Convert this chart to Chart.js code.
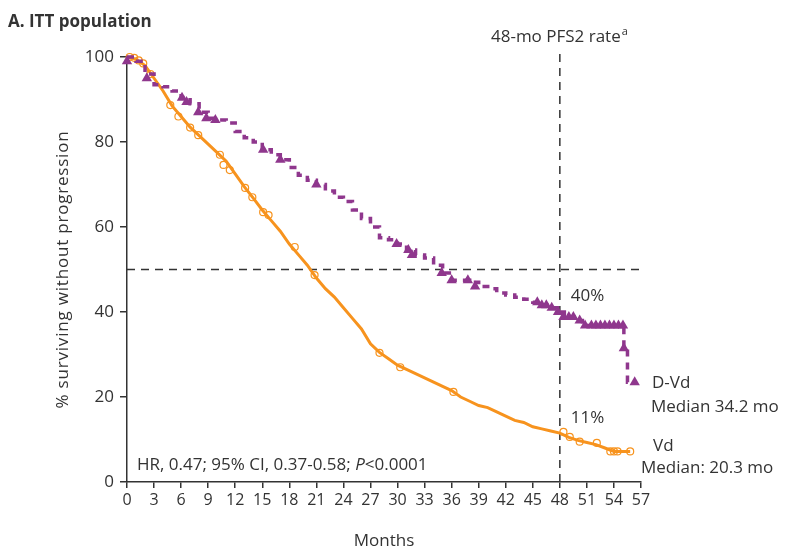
<!DOCTYPE html>
<html lang="en">
<head>
<meta charset="UTF-8">
<title>PFS2 - ITT population</title>
<script src="https://cdn.jsdelivr.net/npm/chart.js"></script>
<style>
  body { margin: 0; background: #fff; }
</style>
</head>
<body>
<canvas id="kmChart" width="785" height="549"></canvas>
<script>
// axis ticks
const xTicks = [0, 3, 6, 9, 12, 15, 18, 21, 24, 27, 30, 33, 36, 39, 42, 45, 48, 51, 54, 57];
const yTicks = [0, 20, 40, 60, 80, 100];

// Vd arm (orange, solid)
const vdMonths = [0, 1, 2, 3, 4, 5, 6, 7, 8, 9, 10, 11, 12, 13, 14, 15, 16, 17, 18, 19, 20,
  21, 22, 23, 24, 25, 26, 27, 28, 29, 30, 31, 32, 33, 34, 35, 36, 37, 38, 39, 40,
  41, 42, 43, 44, 45, 46, 47, 48, 49, 50, 51, 52, 53, 54, 55, 55.8];
const vdSurvival = [100, 99.5, 98, 95, 92, 88.5, 86, 83.5, 81.5, 79.5, 77.5, 75.5, 72.5, 69.5, 66.8, 64, 61.5, 59, 56, 53.5, 51,
  48, 45.5, 43.5, 41, 38.5, 36, 32.5, 30.5, 29, 27.5, 26.5, 25.5, 24.5, 23.5, 22.5, 21.5, 20, 19, 18, 17.5,
  16.5, 15.5, 14.5, 14, 13, 12.5, 12, 11.5, 10.5, 9.8, 9.3, 8.8, 8, 7.2, 7.2, 7.2];
const vdCensorMonths = [0.3, 0.8, 1.3, 1.8, 2.6, 4.8, 5.7, 7.0, 7.9, 10.3, 10.7, 11.4, 13.1, 13.9, 15.1, 15.7, 18.6, 20.8,
  28.0, 30.3, 36.2, 48.4, 49.1, 50.2, 52.1, 53.6, 54.0, 54.4, 55.8];
const vdCensorSurvival = [100, 99.8, 99.2, 98.5, 96, 88.7, 86, 83.4, 81.6, 77, 74.6, 73.4, 69.2, 67, 63.5, 62.8, 55.3, 48.7,
  30.4, 27, 21.2, 11.8, 10.6, 9.5, 9.2, 7.2, 7.2, 7.2, 7.2];

// D-Vd arm (purple, dashed)
const dvdMonths = [0, 1, 2, 3, 4, 5, 6, 7, 8, 9, 10, 11, 12, 13, 14, 15, 16, 17, 18, 19, 20,
  21, 22, 23, 24, 25, 26, 27, 28, 29, 30, 31, 32, 33, 34, 35, 36, 37, 38, 39, 40,
  41, 42, 43, 44, 45, 46, 47, 48, 48.5, 50, 50.5, 55, 55.1, 55.5, 56.3];
const dvdSurvival = [100, 99, 96, 93.5, 93, 92, 90.5, 89, 87, 85.6, 85.2, 84.5, 82.5, 81, 80, 78.2, 77, 75.8, 74, 72.2, 71,
  70, 68.5, 67, 66, 64, 62, 60, 57.5, 57, 56, 54.6, 53.4, 52.7, 51, 49.2, 47.5, 47.5, 47, 46, 45.5,
  44.5, 44, 43.5, 43, 42.3, 41.6, 41, 40, 38.8, 38, 36.8, 36.8, 31.5, 23.5, 23.5];
const dvdCensorMonths = [0, 2.2, 6.1, 6.6, 7.9, 8.8, 9.8, 15.1, 17, 21, 29.9, 31.2, 31.6, 34.9, 36, 37.8, 38.6,
  45.5, 46, 46.5, 47.1, 47.8, 48.4, 49, 49.5, 50.2, 50.8, 51.5, 52, 52.5, 53, 53.5, 54, 54.5, 55, 55.1, 56.3];
const dvdCensorSurvival = [99, 95, 90.4, 89.4, 87, 85.6, 85.2, 78.2, 75.8, 70, 56, 54.6, 53.4, 49.2, 47.5, 47.5, 46,
  42.3, 41.6, 41.6, 41, 40, 38.8, 38.8, 38.8, 38, 36.8, 36.8, 36.8, 36.8, 36.8, 36.8, 36.8, 36.8, 36.8, 31.5, 23.5];

const purple = '#8f378d';
const orange = '#f7931e';
const ink = '#333333';
const fontFamily = '"Open Sans", "Noto Sans", sans-serif';
const textSize = 17;

function pairs(xs, ys) {
  return xs.map((v, i) => ({ x: v, y: ys[i] }));
}

const overlay = {
  id: 'overlay',
  beforeDatasetsDraw(chart) {
    const { ctx, scales: { x, y } } = chart;
    ctx.save();
    ctx.strokeStyle = ink;
    ctx.lineWidth = 1.5;
    ctx.setLineDash([8, 6]);
    ctx.beginPath();
    ctx.moveTo(x.getPixelForValue(0), y.getPixelForValue(50));
    ctx.lineTo(x.getPixelForValue(57), y.getPixelForValue(50));
    ctx.moveTo(x.getPixelForValue(48), y.getPixelForValue(0));
    ctx.lineTo(x.getPixelForValue(48), y.getPixelForValue(101.3));
    ctx.stroke();
    ctx.restore();
  },
  afterDraw(chart) {
    const { ctx, scales: { x, y } } = chart;
    ctx.save();
    ctx.fillStyle = ink;
    ctx.textBaseline = 'middle';

    // panel title
    ctx.font = 'bold 17px ' + fontFamily;
    ctx.textAlign = 'left';
    ctx.fillText('A. ITT population', 8, 22);

    ctx.font = textSize + 'px ' + fontFamily;
    // 48-month marker label with superscript
    const label = '48-mo PFS2 rate';
    const w = ctx.measureText(label).width;
    const cx = x.getPixelForValue(48);
    ctx.fillText(label, cx - w / 2 - 4, 37);
    ctx.font = '11px ' + fontFamily;
    ctx.fillText('a', cx + w / 2 - 3, 32);

    ctx.font = textSize + 'px ' + fontFamily;
    const px = x.getPixelForValue(48) + 11;
    ctx.fillText('40%', px, y.getPixelForValue(43.8));
    ctx.fillText('11%', px, y.getPixelForValue(15));

    const lx = x.getPixelForValue(57) + 11;
    ctx.fillText('D-Vd', lx, y.getPixelForValue(23.3));
    ctx.fillText('Median 34.2 mo', lx - 1, y.getPixelForValue(17.6));
    ctx.fillText('Vd', lx + 1, y.getPixelForValue(8.5));
    ctx.fillText('Median: 20.3 mo', lx - 11, y.getPixelForValue(3.3));

    // hazard ratio line
    let hx = x.getPixelForValue(0) + 10;
    const hy = y.getPixelForValue(4);
    const parts = [['HR, 0.47; 95% CI, 0.37-0.58; ', ''], ['P', 'italic '], ['<0.0001', '']];
    parts.forEach(([t, style]) => {
      ctx.font = style + textSize + 'px ' + fontFamily;
      ctx.fillText(t, hx, hy);
      hx += ctx.measureText(t).width;
    });

    // axis titles
    ctx.font = textSize + 'px ' + fontFamily;
    ctx.textAlign = 'center';
    ctx.fillText('Months', (x.left + x.right) / 2, 541);
    ctx.save();
    ctx.translate(63, y.getPixelForValue(50));
    ctx.rotate(-Math.PI / 2);
    ctx.letterSpacing = '0.8px';
    ctx.fillText('% surviving without progression', 0, 0);
    ctx.restore();
    ctx.restore();
  }
};

new Chart(document.getElementById('kmChart').getContext('2d'), {
  type: 'scatter',
  data: {
    datasets: [
      {
        label: 'Vd',
        type: 'line',
        data: pairs(vdMonths, vdSurvival),
        borderColor: orange,
        borderWidth: 3,
        pointRadius: 0,
        tension: 0,
        fill: false,
        clip: false,
        order: 3
      },
      {
        label: 'Vd censored',
        data: pairs(vdCensorMonths, vdCensorSurvival),
        pointStyle: 'circle',
        pointRadius: 3.5,
        borderColor: orange,
        borderWidth: 1.2,
        backgroundColor: 'rgba(255,255,255,0)',
        clip: false,
        order: 2
      },
      {
        label: 'D-Vd',
        type: 'line',
        data: pairs(dvdMonths, dvdSurvival),
        borderColor: purple,
        borderWidth: 3.5,
        borderDash: [7, 6],
        stepped: true,
        pointRadius: 0,
        fill: false,
        clip: false,
        order: 1
      },
      {
        label: 'D-Vd censored',
        data: pairs(dvdCensorMonths, dvdCensorSurvival),
        pointStyle: 'triangle',
        pointRadius: 6,
        borderWidth: 0,
        borderColor: purple,
        backgroundColor: purple,
        clip: false,
        order: 0
      }
    ]
  },
  options: {
    responsive: false,
    animation: false,
    layout: { padding: { left: 0, top: 57, right: 144, bottom: 0 } },
    plugins: {
      legend: { display: false },
      tooltip: { enabled: false }
    },
    scales: {
      x: {
        type: 'linear',
        min: 0,
        max: 57,
        afterBuildTicks: (scale) => { scale.ticks = xTicks.map(v => ({ value: v })); },
        afterFit: (scale) => { scale.height = 67; },
        ticks: { color: ink, font: { family: fontFamily, size: 16 }, padding: 3, maxRotation: 0, autoSkip: false },
        grid: { drawOnChartArea: false, drawTicks: true, tickLength: 6, color: ink, lineWidth: 1.5 },
        border: { display: true, color: ink, width: 1.5 }
      },
      y: {
        min: 0,
        max: 100,
        afterBuildTicks: (scale) => { scale.ticks = yTicks.map(v => ({ value: v })); },
        afterFit: (scale) => { scale.width = 127; },
        ticks: { color: ink, font: { family: fontFamily, size: 17 }, padding: 6 },
        grid: { drawOnChartArea: false, drawTicks: true, tickLength: 7, color: ink, lineWidth: 1.5 },
        border: { display: true, color: ink, width: 1.5 }
      }
    }
  },
  plugins: [overlay]
});
</script>
</body>
</html>
